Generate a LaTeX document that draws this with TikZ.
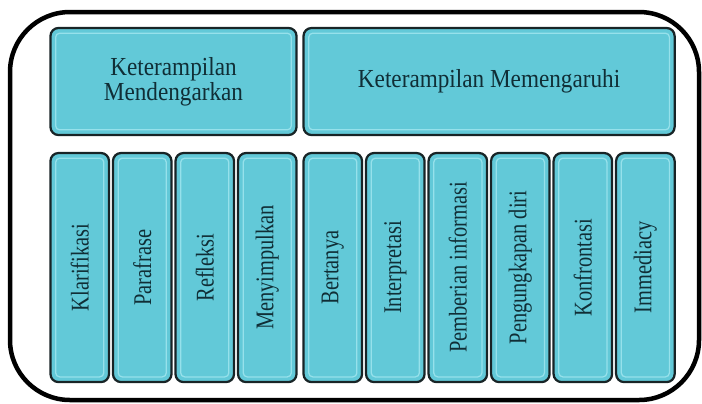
\documentclass[tikz,border=0pt]{standalone}
\usepackage{fontspec}
\setmainfont{Liberation Serif}
\usepackage{graphicx}
\usetikzlibrary{positioning}

\definecolor{boxfill}{RGB}{98,201,216}
\definecolor{boxline}{RGB}{24,36,38}
\definecolor{boxtext}{RGB}{16,46,54}
\definecolor{boxshine}{RGB}{150,225,235}

\newcommand{\upright}[1]{\rotatebox{90}{\scalebox{1}[1.25]{#1}}}

\begin{document}
\begin{tikzpicture}
  [
    x = 0.025cm, y = -0.025cm,
    panel/.style = {draw = boxline, fill = boxfill, line width = 1.6pt,
      rounded corners = 0.2cm, text = boxtext, inner sep = 0pt, outer sep = 0pt,
      path picture = {\draw[boxshine, line width = 0.9pt, rounded corners = 0.1cm]
        ([shift = {(0.13cm,-0.13cm)}]path picture bounding box.north west) rectangle
        ([shift = {(-0.13cm,0.13cm)}]path picture bounding box.south east);}},
    head/.style = {panel, minimum height = 2.675cm, align = center,
      font = \fontsize{16.5}{16}\selectfont},
    skill/.style = {panel, minimum width = 1.4625cm, minimum height = 5.725cm,
      font = \fontsize{14.5}{17}\selectfont},
    frame/.style = {draw = black, line width = 3.2pt, rounded corners = 1.5cm}
  ]
  \useasboundingbox (0,0) rectangle (702,403);
  \draw[frame] (10,12) rectangle (699,400);

  % top row
  \node[head, minimum width = 6.15cm] (listen) at (173.5,81.5)
    {\scalebox{1}[1.12]{Keterampilan}\\\scalebox{1}[1.12]{Mendengarkan}};
  \node[head, minimum width = 9.275cm, right = 0.175cm of listen] (affect)
    {\scalebox{1}[1.12]{Keterampilan Memengaruhi}};

  % listening skills
  \node[skill, below right = 0.45cm and 0cm of listen.south west] (klar) {\upright{Klarifikasi}};
  \node[skill, right = 0.1cm of klar] (para) {\upright{Parafrase}};
  \node[skill, right = 0.1cm of para] (refl) {\upright{Refleksi}};
  \node[skill, right = 0.1cm of refl] (simp) {\upright{Menyimpulkan}};

  % influencing skills
  \node[skill, right = 0.175cm of simp] (tanya) {\upright{Bertanya}};
  \node[skill, right = 0.1cm of tanya] (inter) {\upright{Interpretasi}};
  \node[skill, right = 0.1cm of inter] (info) {\upright{Pemberian informasi}};
  \node[skill, right = 0.1cm of info] (diri) {\upright{Pengungkapan diri}};
  \node[skill, right = 0.1cm of diri] (konf) {\upright{Konfrontasi}};
  \node[skill, right = 0.1cm of konf] (imme) {\upright{Immediacy}};
\end{tikzpicture}
\end{document}
